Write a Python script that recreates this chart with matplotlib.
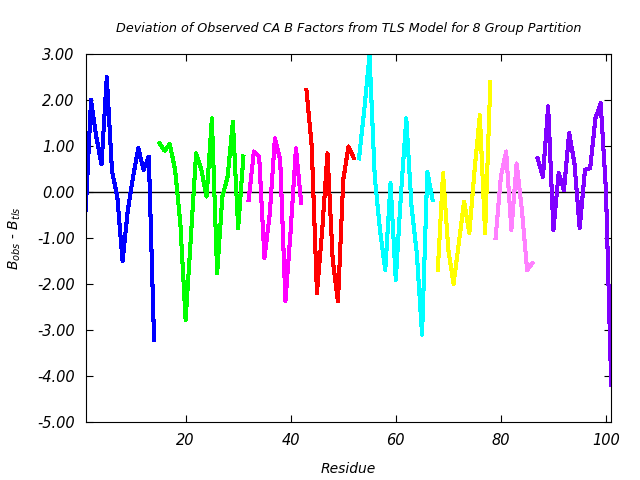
# coding: utf-8
# Deviation of observed CA B factors from the TLS model, 8 group partition

import matplotlib.pyplot as plt
import numpy as np

plt.rcParams['axes.unicode_minus'] = False

# 每個 group 的 residue 起點和數值
blue_start = 1
blue_vals = [-0.39, 2.0, 1.2, 0.6, 2.5, 0.45, -0.1, -1.5, -0.4, 0.33, 0.95, 0.48, 0.77, -3.22]
green_start = 15
green_vals = [1.06, 0.9, 1.04, 0.48, -0.68, -2.78, -1.0, 0.84, 0.48, -0.1, 1.6, -1.77, -0.1, 0.33, 1.53, -0.79, 0.77]
magenta_start = 32
magenta_vals = [-0.17, 0.88, 0.77, -1.43, -0.5, 1.17, 0.7, -2.38, -0.83, 0.95, -0.24]
red_start = 43
red_vals = [2.22, 1.0, -2.2, -0.83, 0.84, -1.48, -2.38, 0.26, 0.99, 0.74]
cyan_start = 53
cyan_vals = [0.73, 1.78, 2.98, 0.33, -0.83, -1.7, 0.19, -1.91, -0.03, 1.6, -0.32, -1.33, -3.1, 0.44, -0.17]
yellow_start = 68
yellow_vals = [-1.7, 0.41, -1.26, -2.0, -1.11, -0.21, -0.9, 0.48, 1.67, -0.9, 2.4]
pink_start = 79
pink_vals = [-1.0, 0.33, 0.88, -0.83, 0.62, -0.39, -1.7, -1.55]
purple_start = 87
purple_vals = [0.73, 0.33, 1.86, -0.83, 0.41, 0.04, 1.28, 0.63, -0.79, 0.48, 0.52, 1.6, 1.93, 0.04, -4.2]

groups = [
    (blue_start, blue_vals, '#0000ff'),
    (green_start, green_vals, '#00ff00'),
    (magenta_start, magenta_vals, '#ff00ff'),
    (red_start, red_vals, '#ff0000'),
    (cyan_start, cyan_vals, '#00ffff'),
    (yellow_start, yellow_vals, '#ffff00'),
    (pink_start, pink_vals, '#ff80ff'),
    (purple_start, purple_vals, '#8000ff'),
]

fig = plt.figure(figsize=(6.4, 4.8), dpi=100)
ax = fig.add_axes([0.134, 0.121, 0.821, 0.7665])

ax.axhline(0, color='black', linewidth=1)

for start, vals, color in groups:
    res = np.arange(start, start + len(vals))
    ax.plot(res, vals, color=color, linewidth=2.2, antialiased=False)

ax.set_xlim(1, 101)
ax.set_ylim(-5, 3)
ax.set_xticks([20, 40, 60, 80, 100])
ax.set_yticks(np.arange(-5, 3.01, 1))
ax.set_yticklabels(["%.2f" % v for v in np.arange(-5, 3.01, 1)])
ax.tick_params(direction='in', length=5, top=True, right=True, labelsize=10.5, pad=8)
for lab in ax.get_xticklabels() + ax.get_yticklabels():
    lab.set_fontstyle('italic')

ax.set_title("Deviation of Observed CA B Factors from TLS Model for 8 Group Partition",
             fontsize=9.2, style='italic', pad=16)
ax.set_xlabel("Residue", fontsize=10, style='italic', labelpad=10)
ax.set_ylabel(r'$B_{obs}$ - $B_{tls}$', fontsize=10, labelpad=10)

fig.savefig("out.png", dpi=100)
